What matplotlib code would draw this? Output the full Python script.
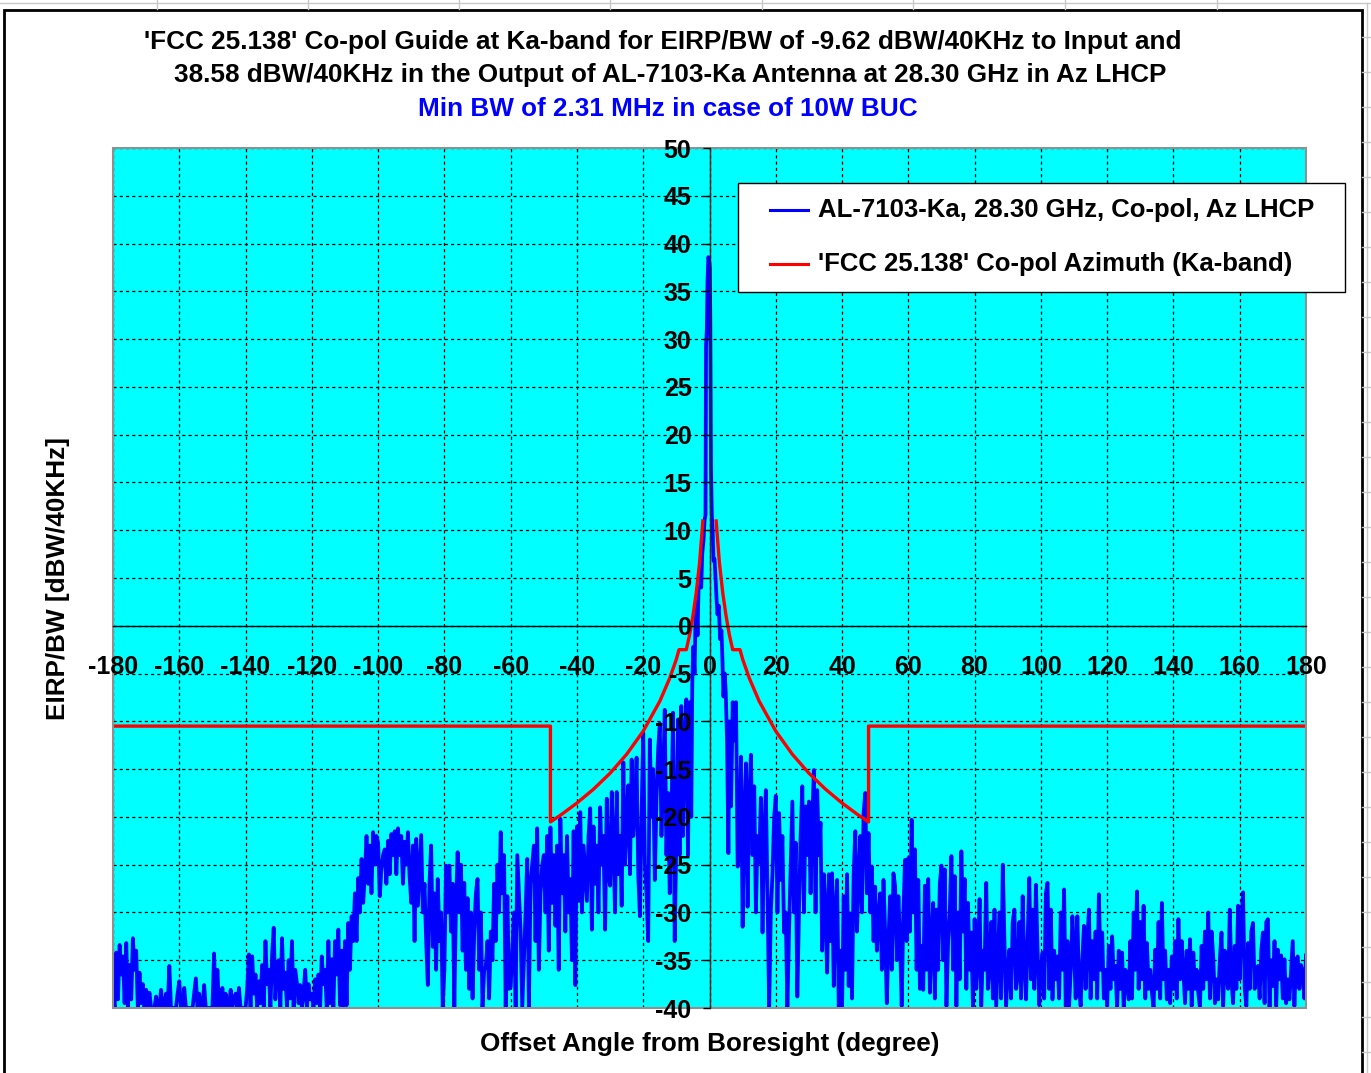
import numpy as np
import matplotlib
matplotlib.use("Agg")
import matplotlib.pyplot as plt
from matplotlib.patches import Rectangle
from matplotlib.lines import Line2D

plt.rcParams['font.family'] = ['Liberation Sans', 'DejaVu Sans']
plt.rcParams['font.weight'] = 'bold'
plt.rcParams['axes.unicode_minus'] = False

# ---------------- data ----------------
title_lines = ["'FCC 25.138' Co-pol Guide at Ka-band for EIRP/BW of -9.62 dBW/40KHz to Input and",
               "38.58 dBW/40KHz in the Output of AL-7103-Ka Antenna at 28.30 GHz in Az LHCP"]
subtitle = "Min BW of 2.31 MHz in case of 10W BUC"
x_label = "Offset Angle from Boresight (degree)"
y_label = "EIRP/BW [dBW/40KHz]"
series_names = ["AL-7103-Ka, 28.30 GHz, Co-pol, Az LHCP", "'FCC 25.138' Co-pol Azimuth (Ka-band)"]

x_ticks = list(range(-180, 181, 20))
y_ticks = list(range(-40, 51, 5))

# measured pattern, left part: samples every 0.5 deg starting at -180 deg
left_start, left_step = -180.0, 0.5
left_val = [
    -38.5, -40.0, -34.2, -39.1, -33.4, -36.5, -34.6, -39.5, -33.2, -40.0, -35.5, -39.1, -32.7, -36.0, -34.0, -40.0, -36.3, -39.5, -37.5, -40.0,
    -38.1, -40.0, -38.4, -40.0, -40.0, -40.0, -38.8, -40.0, -40.0, -38.1, -40.0, -40.0, -38.5, -40.0, -35.6, -40.0, -40.0, -40.0, -40.0, -38.5,
    -37.2, -40.0, -40.0, -37.9, -40.0, -40.0, -40.0, -40.0, -40.0, -38.5, -36.9, -40.0, -38.5, -40.0, -40.0, -37.6, -40.0, -40.0, -40.0, -40.0,
    -40.0, -34.3, -40.0, -36.0, -40.0, -40.0, -37.9, -40.0, -38.5, -40.0, -40.0, -38.1, -40.0, -39.1, -38.5, -40.0, -37.9, -40.0, -40.0, -40.0,
    -40.0, -38.0, -34.4, -40.0, -34.6, -38.5, -36.5, -40.0, -37.2, -39.5, -35.5, -40.0, -33.0, -37.5, -36.0, -40.0, -34.5, -31.6, -39.1, -36.0,
    -35.0, -40.0, -32.7, -38.0, -36.3, -40.0, -35.0, -39.0, -33.0, -40.0, -36.0, -37.4, -39.5, -37.6, -40.0, -38.5, -36.0, -40.0, -37.5, -39.1,
    -38.5, -40.0, -37.0, -39.5, -36.5, -40.0, -34.6, -37.5, -36.0, -40.0, -33.0, -39.5, -34.9, -40.0, -33.0, -36.5, -31.8, -39.7, -34.0, -40.0,
    -33.0, -39.7, -31.1, -36.0, -30.4, -33.0, -28.0, -33.0, -26.4, -30.0, -24.4, -29.0, -26.0, -22.0, -27.0, -23.0, -28.0, -21.6, -25.0, -22.0,
    -22.7, -28.3, -25.5, -24.0, -23.4, -27.0, -22.5, -26.0, -21.8, -24.0, -21.5, -26.0, -21.2, -24.0, -22.0, -27.0, -22.6, -25.0, -21.6, -26.2,
    -29.0, -23.0, -33.0, -22.3, -29.3, -25.5, -21.9, -30.0, -27.0, -33.0, -37.6, -27.0, -23.0, -33.6, -28.0, -36.0, -26.5, -33.0, -30.0, -39.9,
    -36.0, -25.1, -30.0, -25.1, -32.0, -27.0, -39.9, -29.0, -23.7, -30.0, -25.0, -34.0, -26.9, -36.0, -28.5, -38.0, -30.0, -39.0, -32.0, -28.0,
    -26.5, -36.0, -30.0, -39.9, -36.0, -35.7, -33.0, -39.0, -32.0, -35.0, -27.0, -33.0, -25.0, -30.0, -21.6, -28.0, -24.0, -39.9, -28.3, -38.0,
    -37.8, -34.0, -30.0, -39.9, -24.0, -28.0, -32.0, -39.9, -35.0, -30.0, -24.4, -39.9, -27.0, -25.0, -23.0, -33.0, -21.2, -36.0, -28.0, -25.1,
    -24.0, -30.0, -22.0, -34.0, -21.1, -29.0, -24.0, -31.4, -23.0, -36.0, -20.2, -28.0, -24.0, -32.0, -22.0, -30.0, -26.5, -35.0, -21.5, -37.6,
    -21.0, -28.8, -19.5, -30.0, -23.0, -26.0, -28.8, -22.0, -19.1, -31.8, -21.0, -27.0, -23.0, -30.0, -19.0, -25.0, -22.0, -31.8, -18.1, -26.0,
    -27.2, -17.4, -23.0, -30.0, -17.4, -26.0, -22.0, -29.3, -14.3, -25.0, -20.0, -16.7, -26.0, -14.0, -22.0, -19.0, -13.8, -26.0, -30.4, -20.0,
    -11.2, -25.0, -28.0, -33.0, -11.9, -20.0, -15.0, -26.6, -18.0, -13.0, -10.2, -22.0, -16.0, -8.8, -24.0, -17.5, -28.0, -20.0, -9.1, -33.0,
    -22.0, -9.8, -24.0, -8.4, -22.0, -12.0, -7.7, -24.0]

# main lobe region, irregular sampling
center_deg = [-6.0, -5.5, -5.2, -4.9, -4.5, -4.2, -3.9, -3.6, -3.3, -2.9, -2.5, -2.2, -1.8,
              -1.5, -1.2, -1.05, -0.8, -0.6, -0.35, -0.1, 0.1, 0.25, 0.45, 0.7, 0.95, 1.2,
              1.5, 1.8, 2.1, 2.4, 2.8, 3.2, 3.6, 3.9, 4.2, 4.6, 4.9, 5.3, 5.7]
center_val = [-8.0, -20.0, -6.0, -2.2, -5.0, 1.0, 2.7, -1.0, 4.2, 5.2, 4.0, 7.5, 9.0,
              11.0, 11.6, 29.3, 31.0, 36.0, 38.58, 38.2, 37.5, 31.7, 16.3, 11.6, 10.0, 6.8,
              7.0, 5.2, 3.0, 1.2, 2.1, -1.4, -0.5, -3.5, -7.4, -5.0, -7.0, -12.0, -23.8]

# measured pattern, right part: samples every 0.5 deg starting at +6 deg
right_start, right_step = 6.0, 0.5
right_val = [
    -10.0, -18.9, -8.0, -12.0, -8.0, -25.2, -23.8, -13.7,
    -31.5, -20.0, -14.4, -29.4, -18.0, -13.5, -24.0, -16.8, -30.0, -22.0, -24.8, -18.0, -32.1, -22.0, -17.2, -28.0, -40.0, -30.0, -26.0, -20.1,
    -17.8, -30.0, -19.6, -26.6, -22.0, -32.1, -30.0, -40.0, -32.0, -25.0, -18.4, -30.0, -22.7, -38.8, -30.0, -22.0, -16.8, -30.0, -18.9, -24.0,
    -18.4, -28.0, -20.0, -15.1, -30.0, -17.2, -24.0, -20.6, -34.0, -26.0, -30.1, -36.3, -26.0, -33.0, -25.9, -37.7, -30.0, -26.6, -40.0, -34.0,
    -40.0, -28.3, -36.0, -26.0, -37.7, -30.1, -39.0, -26.0, -21.5, -32.0, -26.6, -22.0, -30.0, -19.6, -17.5, -28.0, -21.7, -30.0, -25.2, -33.0,
    -27.3, -34.0, -30.8, -28.0, -36.0, -26.6, -32.0, -39.5, -33.0, -28.3, -36.0, -25.9, -27.2, -35.0, -28.3, -33.0, -39.8, -30.0, -24.5, -33.0,
    -24.3, -32.0, -20.3, -30.0, -23.4, -36.0, -26.6, -38.0, -33.5, -38.1, -27.2, -36.0, -26.5, -38.4, -33.0, -29.0, -39.0, -29.7, -36.0, -27.0,
    -25.1, -35.0, -25.5, -39.8, -33.0, -30.0, -24.1, -36.0, -26.2, -39.8, -30.0, -37.0, -23.6, -32.0, -26.5, -38.0, -29.0, -36.0, -32.1, -39.8,
    -30.7, -38.0, -35.0, -28.6, -39.8, -34.0, -36.0, -26.9, -38.0, -35.6, -31.0, -39.0, -29.7, -39.8, -35.0, -30.0, -39.0, -25.0, -33.0, -39.8,
    -36.0, -33.9, -39.0, -31.0, -29.7, -38.0, -36.3, -31.0, -39.0, -28.3, -35.0, -39.1, -33.0, -26.4, -37.0, -29.7, -38.0, -27.1, -34.0, -39.7,
    -36.0, -34.2, -39.0, -28.0, -26.9, -38.0, -29.7, -39.1, -34.0, -37.0, -34.6, -39.0, -30.0, -36.0, -27.6, -39.8, -33.0, -39.8, -36.0, -30.4,
    -34.0, -39.0, -30.4, -37.5, -39.8, -35.0, -31.4, -38.0, -33.0, -29.7, -39.0, -33.0, -37.0, -32.0, -39.0, -28.1, -36.0, -32.1, -39.0, -36.0,
    -39.8, -33.5, -38.0, -32.5, -37.0, -35.6, -40.0, -34.0, -38.0, -34.2, -40.0, -36.0, -37.0, -39.1, -33.0, -39.0, -30.0, -36.0, -27.8, -38.0,
    -31.0, -37.0, -29.3, -39.0, -33.2, -38.0, -36.0, -38.4, -40.0, -33.9, -38.0, -31.0, -39.0, -29.0, -37.0, -34.0, -39.1, -36.0, -39.5, -34.6,
    -38.0, -33.0, -39.0, -30.7, -37.0, -33.0, -36.3, -39.5, -34.0, -38.0, -32.8, -39.8, -34.2, -38.0, -36.0, -38.4, -40.0, -33.5, -38.0, -32.0,
    -37.0, -30.0, -39.0, -32.0, -34.6, -39.5, -37.0, -39.1, -35.0, -32.1, -39.8, -34.0, -36.7, -38.0, -29.7, -37.0, -39.5, -33.5, -38.0, -29.3,
    -37.0, -31.0, -27.9, -38.0, -39.8, -33.2, -38.0, -32.0, -31.1, -38.0, -36.0, -35.6, -39.0, -34.0, -32.1, -39.5, -31.0, -30.7, -40.0, -35.0,
    -37.7, -33.0, -39.8, -33.9, -37.0, -34.5, -39.0, -34.9, -39.5, -37.0, -39.1, -36.0, -33.0, -39.8, -35.0, -34.6, -38.0, -35.5, -36.3, -39.0,
    -34.5]

mask_deg = [-180, -48, -48, -45, -40, -35, -30, -25, -20, -15, -12, -10, -9.2, -7,
            -6, -5, -4, -3, -2, np.nan, 2, 3, 4, 5, 6, 7, 9.2, 10, 12, 15, 20, 25,
            30, 35, 40, 45, 48, 48, 180]
mask_val = [-10.5, -10.5, -20.53, -19.83, -18.55, -17.1, -15.43, -13.45, -11.03, -7.9,
            -5.48, -3.5, -2.5, -2.5, -0.95, 1.03, 3.45, 6.57, 10.97, np.nan, 10.97,
            6.57, 3.45, 1.03, -0.95, -2.5, -2.5, -3.5, -5.48, -7.9, -11.03, -13.45,
            -15.43, -17.1, -18.55, -19.83, -20.53, -10.5, -10.5]

left_deg = left_start + left_step * np.arange(len(left_val))
right_deg = right_start + right_step * np.arange(len(right_val))
antenna_deg = np.concatenate([left_deg, center_deg, right_deg])
antenna_val = np.concatenate([left_val, center_val, right_val])

# ---------------- figure ----------------
W, H = 1371, 1073
fig = plt.figure(figsize=(W / 100, H / 100), dpi=100)
fig.patch.set_facecolor('white')

def fx(px):
    return px / W

def fy(py):
    return 1 - py / H

# spreadsheet cell lines outside the chart
for xp in [157, 308, 459, 610, 762, 913, 1065, 1217]:
    fig.add_artist(Line2D([fx(xp), fx(xp)], [fy(0), fy(9)], color='#c8c8c8', lw=1))
fig.add_artist(Line2D([0, 1], [fy(3), fy(3)], color='#c8c8c8', lw=1))
for yp in range(37, H, 35):
    fig.add_artist(Line2D([fx(1362), 1], [fy(yp), fy(yp)], color='#c8c8c8', lw=1))
fig.add_artist(Line2D([fx(1367), fx(1367)], [0, fy(3)], color='#c8c8c8', lw=1))

# chart area border
fig.add_artist(Rectangle((fx(4), -0.01), fx(1362) - fx(4), fy(10) + 0.01,
                         fill=False, edgecolor='black', lw=2))

pos = [fx(113), fy(1008), fx(1306) - fx(113), fy(148) - fy(1008)]
ax = fig.add_axes(pos)
ax.set_facecolor('#00FFFF')
ax.set_xlim(-180, 180)
ax.set_ylim(-40, 50)
ax.set_xticks(x_ticks)
ax.set_yticks(y_ticks)
ax.grid(True, color='black', linestyle=(0, (2.5, 2.5)), linewidth=0.9)
ax.set_axisbelow(True)
ax.tick_params(length=0, labelbottom=False, labelleft=False)
for s in ax.spines.values():
    s.set_visible(False)

ax.plot(antenna_deg, antenna_val, color='#0000FF', lw=2.7, zorder=3)
ax.plot(mask_deg, mask_val, color='#FF0000', lw=2.4, zorder=4)

# plot area border
ax.add_patch(Rectangle((0, 0), 1, 1, transform=ax.transAxes, fill=False,
                       edgecolor='#909090', lw=1.5, zorder=6, clip_on=False))

# overlay axes for the crossing axis lines and tick labels
ax2 = fig.add_axes(pos)
ax2.patch.set_visible(False)
ax2.set_xlim(-180, 180)
ax2.set_ylim(-40, 50)
ax2.set_xticks(x_ticks)
ax2.set_yticks(y_ticks)
ax2.spines['top'].set_visible(False)
ax2.spines['right'].set_visible(False)
ax2.spines['left'].set_position(('data', 0))
ax2.spines['bottom'].set_position(('data', 0))
ax2.spines['left'].set_color('#202020')
ax2.spines['bottom'].set_color('black')
ax2.spines['left'].set_linewidth(1.0)
ax2.spines['bottom'].set_linewidth(1.0)
ax2.tick_params(axis='y', direction='out', length=5, width=1, pad=8, labelsize=18)
ax2.tick_params(axis='x', direction='out', length=0, width=1, pad=21, labelsize=18)
for lab in ax2.get_xticklabels() + ax2.get_yticklabels():
    lab.set_fontweight('bold')

# titles
tfs = 18.8
fig.text(fx(663), fy(42), title_lines[0], ha='center', va='center', fontsize=tfs, fontweight='bold')
fig.text(fx(670), fy(75), title_lines[1], ha='center', va='center', fontsize=tfs, fontweight='bold')
fig.text(fx(668), fy(109), subtitle, ha='center', va='center', fontsize=tfs, fontweight='bold', color='#0000FF')

fig.text(fx(710), fy(1044), x_label, ha='center', va='center', fontsize=18.8, fontweight='bold')
fig.text(fx(58), fy(578), y_label, ha='center', va='center', fontsize=18.8, fontweight='bold', rotation=90)

# legend box (drawn in figure pixels like the spreadsheet legend)
fig.add_artist(Rectangle((fx(738), fy(292)), fx(1345) - fx(738), fy(183) - fy(292),
                         facecolor='white', edgecolor='black', lw=1.0, zorder=10))
for yrow, col, name in [(210, '#0000FF', series_names[0]), (264, '#FF0000', series_names[1])]:
    fig.add_artist(Line2D([fx(770), fx(808)], [fy(yrow), fy(yrow)], color=col, lw=2.2, zorder=11))
    fig.text(fx(818), fy(yrow), name, ha='left', va='center', fontsize=18.5,
             fontweight='bold', zorder=11)

fig.savefig('out.png', dpi=100)
